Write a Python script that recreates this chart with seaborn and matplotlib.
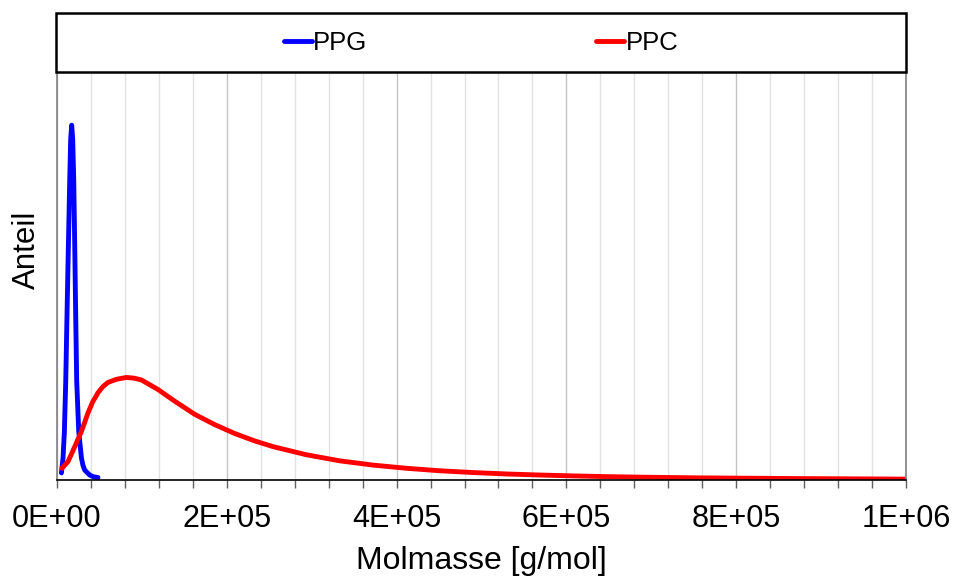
import matplotlib
matplotlib.use('Agg')
import matplotlib.pyplot as plt
from matplotlib.patches import Rectangle
import seaborn as sns

# PPG curve (molar mass g/mol, relative share; peak = 1)
ppg_x = [5.2e3, 7.1e3, 8.7e3, 1.03e4, 1.18e4, 1.34e4, 1.50e4, 1.61e4, 1.73e4,
         1.85e4, 1.97e4, 2.09e4, 2.20e4, 2.32e4, 2.56e4, 2.88e4, 3.05e4, 3.26e4,
         3.85e4, 4.3e4, 4.83e4]
ppg_y = [0.020, 0.062, 0.137, 0.279, 0.468, 0.659, 0.847, 0.960, 1.000,
         0.960, 0.847, 0.659, 0.468, 0.279, 0.137, 0.062, 0.042, 0.028,
         0.014, 0.009, 0.007]

# PPC curve
ppc_x = [5.9e3, 1.30e4, 2.09e4, 2.88e4, 3.65e4, 4.2e4, 4.83e4, 5.4e4, 6.01e4,
         7.03e4, 8.18e4, 9.08e4, 9.94e4, 1.19e5, 1.387e5, 1.623e5, 1.858e5,
         2.094e5, 2.33e5, 2.545e5, 2.939e5, 3.331e5, 3.723e5, 4.117e5, 4.509e5,
         4.902e5, 5.295e5, 5.688e5, 6.08e5, 6.474e5, 6.866e5, 7.573e5, 8.751e5,
         1.0e6]
ppc_y = [0.033, 0.052, 0.094, 0.137, 0.189, 0.220, 0.246, 0.263, 0.275,
         0.284, 0.289, 0.287, 0.282, 0.255, 0.222, 0.185, 0.156,
         0.131, 0.110, 0.094, 0.071, 0.054, 0.042, 0.033, 0.026,
         0.021, 0.017, 0.014, 0.0115, 0.0095, 0.008, 0.006, 0.004,
         0.0025]

x_ticks = [0, 2e5, 4e5, 6e5, 8e5, 1e6]
x_labels = ['0E+00', '2E+05', '4E+05', '6E+05', '8E+05', '1E+06']
minor_step = 4e4

sns.set_theme(style='white')
plt.rcParams['font.family'] = ['Liberation Sans', 'DejaVu Sans']
plt.rcParams['text.color'] = 'black'
plt.rcParams['axes.labelcolor'] = 'black'
plt.rcParams['xtick.color'] = 'black'

fig = plt.figure(figsize=(9.56, 5.81), dpi=100)
ax = fig.add_axes([57 / 956, 1 - 480 / 581, 849 / 956, 407 / 581])

line_kw = dict(linewidth=3.5, solid_capstyle='round', solid_joinstyle='round',
               sort=False, estimator=None, ax=ax)
sns.lineplot(x=ppg_x, y=ppg_y, color='#0000ff', label='PPG', **line_kw)
sns.lineplot(x=ppc_x, y=ppc_y, color='#ff0000', label='PPC', **line_kw)

ax.set_xlim(0, 1e6)
ax.set_ylim(0, 1.147)
ax.set_xticks(x_ticks)
ax.set_xticklabels(x_labels, fontsize=22)
ax.set_xticks([i * minor_step for i in range(26)], minor=True)
ax.set_yticks([])
ax.tick_params(axis='x', which='both', bottom=True, length=6, width=1,
               color='#606060', labelcolor='black', direction='out', pad=11)

ax.grid(axis='x', which='major', color='#c4c4c4', lw=1)
ax.grid(axis='x', which='minor', color='#e2e2e2', lw=1)
ax.set_axisbelow(True)

ax.spines['top'].set_visible(False)
ax.spines['left'].set_color('#808080')
ax.spines['right'].set_color('#808080')
ax.spines['bottom'].set_color('black')
for s in ax.spines.values():
    s.set_linewidth(1.2)

ax.set_xlabel('Molmasse [g/mol]', fontsize=23, labelpad=9)
ax.set_ylabel('Anteil', fontsize=22.5, labelpad=11, y=0.565)

# legend in a boxed band above the plot
handles, labels = ax.get_legend_handles_labels()
ax.get_legend().remove()
fig.patches.append(Rectangle((56 / 956, 1 - 72 / 581), 850 / 956, 59 / 581,
                             transform=fig.transFigure, fill=False,
                             edgecolor='black', lw=1.8))
fig.legend(handles, labels, loc='center', ncol=2, frameon=False,
           bbox_to_anchor=(481 / 956, 1 - 42.5 / 581), fontsize=18.5,
           handlelength=1.1, handletextpad=0.05, columnspacing=8.9)

fig.savefig('out.png', dpi=100)
